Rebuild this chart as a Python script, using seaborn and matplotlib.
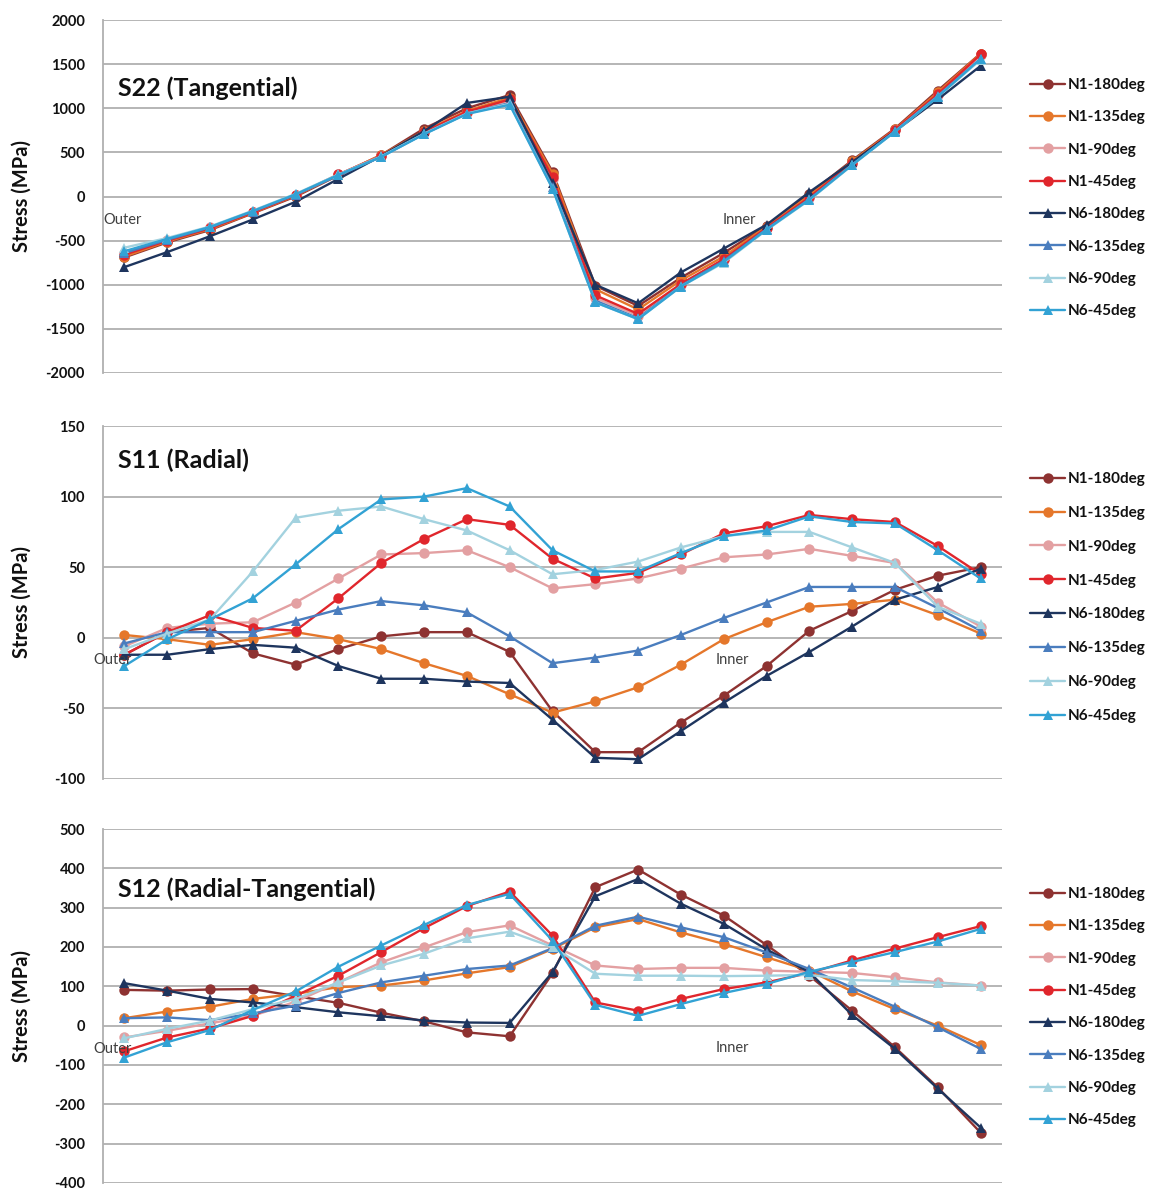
import numpy as np
import pandas as pd
import matplotlib
matplotlib.use("Agg")
import matplotlib.pyplot as plt
import seaborn as sns

# ---------------- data ----------------
series_names = ["N1-180deg", "N1-135deg", "N1-90deg", "N1-45deg",
                "N6-180deg", "N6-135deg", "N6-90deg", "N6-45deg"]
positions = list(range(21))

# S22 (Tangential)
s22_n1_180 = [-690, -520, -380, -190, 0, 240, 470, 770, 1000, 1150, 280, -1010, -1240, -920, -640, -330, 30, 410, 770, 1200, 1620]
s22_n1_135 = [-680, -510, -370, -185, 10, 245, 470, 740, 970, 1120, 260, -1050, -1280, -950, -680, -340, 10, 400, 760, 1180, 1620]
s22_n1_90 = [-640, -490, -350, -170, 20, 250, 460, 720, 950, 1090, 200, -1150, -1350, -1000, -720, -360, -20, 370, 750, 1150, 1600]
s22_n1_45 = [-660, -500, -360, -180, 15, 250, 460, 730, 960, 1100, 220, -1120, -1330, -990, -710, -355, -10, 380, 755, 1160, 1610]
s22_n6_180 = [-800, -630, -450, -260, -60, 200, 460, 740, 1060, 1130, 150, -1000, -1210, -860, -590, -320, 50, 390, 740, 1100, 1480]
s22_n6_135 = [-640, -490, -350, -170, 20, 240, 450, 710, 940, 1060, 110, -1180, -1380, -1010, -730, -370, -30, 360, 740, 1140, 1560]
s22_n6_90 = [-580, -470, -340, -160, 30, 250, 455, 710, 940, 1050, 90, -1200, -1390, -1020, -750, -380, -40, 355, 735, 1130, 1550]
s22_n6_45 = [-620, -480, -345, -165, 25, 245, 450, 705, 935, 1040, 90, -1200, -1390, -1020, -740, -375, -35, 358, 735, 1130, 1560]

# S11 (Radial)
s11_n1_180 = [-12, 4, 7, -11, -19, -8, 1, 4, 4, -10, -52, -81, -81, -60, -41, -20, 5, 19, 34, 44, 50]
s11_n1_135 = [2, -1, -5, -1, 4, -1, -8, -18, -27, -40, -53, -45, -35, -19, -1, 11, 22, 24, 27, 16, 3]
s11_n1_90 = [-6, 7, 10, 11, 25, 42, 59, 60, 62, 50, 35, 38, 42, 49, 57, 59, 63, 58, 53, 25, 8]
s11_n1_45 = [-12, 4, 16, 7, 5, 28, 53, 70, 84, 80, 56, 42, 46, 59, 74, 79, 87, 84, 82, 65, 45]
s11_n6_180 = [-12, -12, -8, -5, -7, -20, -29, -29, -31, -32, -58, -85, -86, -66, -46, -27, -10, 8, 27, 36, 49]
s11_n6_135 = [-4, 4, 4, 4, 12, 20, 26, 23, 18, 1, -18, -14, -9, 2, 14, 25, 36, 36, 36, 21, 5]
s11_n6_90 = [-8, 3, 13, 47, 85, 90, 93, 84, 76, 62, 45, 48, 54, 64, 72, 75, 75, 64, 53, 22, 10]
s11_n6_45 = [-20, -1, 13, 28, 52, 77, 98, 100, 106, 93, 62, 47, 47, 60, 72, 76, 86, 82, 81, 62, 42]

# S12 (Radial-Tangential)
s12_n1_180 = [91, 89, 92, 93, 75, 58, 33, 11, -17, -27, 133, 352, 397, 333, 280, 205, 127, 38, -55, -157, -272]
s12_n1_135 = [19, 36, 48, 68, 81, 98, 102, 115, 133, 149, 195, 250, 271, 237, 208, 174, 140, 87, 42, 0, -49]
s12_n1_90 = [-30, -13, 6, 25, 61, 110, 161, 199, 238, 255, 204, 153, 144, 147, 147, 140, 137, 134, 123, 110, 102]
s12_n1_45 = [-65, -30, -7, 25, 76, 127, 187, 248, 304, 341, 229, 59, 38, 68, 93, 110, 134, 166, 196, 225, 253]
s12_n6_180 = [108, 89, 68, 59, 47, 34, 24, 13, 8, 7, 136, 329, 373, 310, 259, 194, 136, 27, -59, -160, -259]
s12_n6_135 = [19, 21, 14, 31, 51, 83, 110, 127, 144, 153, 197, 254, 277, 250, 225, 186, 144, 97, 48, -4, -59]
s12_n6_90 = [-32, -8, 13, 42, 68, 110, 153, 183, 222, 239, 200, 132, 127, 127, 126, 127, 129, 116, 113, 109, 102]
s12_n6_45 = [-81, -42, -11, 40, 87, 150, 204, 256, 307, 335, 216, 53, 25, 55, 83, 106, 137, 162, 187, 214, 246]

panel_titles = ["S22 (Tangential)", "S11 (Radial)", "S12 (Radial-Tangential)"]
ylabel_text = "Stress (MPa)"
s22_ticks = [-2000, -1500, -1000, -500, 0, 500, 1000, 1500, 2000]
s11_ticks = [-100, -50, 0, 50, 100, 150]
s12_ticks = [-400, -300, -200, -100, 0, 100, 200, 300, 400, 500]

# ---------------- style ----------------
colors = ["#8E3231", "#E5772B", "#E3A0A2", "#E0262C",
          "#1E355E", "#4A7DBE", "#A3D2DF", "#32A2D4"]
palette = dict(zip(series_names, colors))
markers = {n: ("o" if n.startswith("N1") else "^") for n in series_names}

sns.set_theme(style="white")
plt.rcParams["font.family"] = ["Lato", "DejaVu Sans"]
plt.rcParams["axes.unicode_minus"] = False

W, H = 1151, 1189
fig = plt.figure(figsize=(W / 100, H / 100), dpi=100)


def fx(px):
    return px / W


def fy(py):
    return 1 - py / H


panels = [
    dict(lists=[s22_n1_180, s22_n1_135, s22_n1_90, s22_n1_45,
                s22_n6_180, s22_n6_135, s22_n6_90, s22_n6_45],
         top=20, bottom=373, ticks=s22_ticks, title=panel_titles[0],
         title_y=88, outer=(-0.49, -266), inner=(13.97, -266),
         leg_top=78, leg_space=1.2),
    dict(lists=[s11_n1_180, s11_n1_135, s11_n1_90, s11_n1_45,
                s11_n6_180, s11_n6_135, s11_n6_90, s11_n6_45],
         top=426, bottom=779, ticks=s11_ticks, title=panel_titles[1],
         title_y=460, outer=(-0.73, -16), inner=(13.8, -16),
         leg_top=472, leg_space=1.3),
    dict(lists=[s12_n1_180, s12_n1_135, s12_n1_90, s12_n1_45,
                s12_n6_180, s12_n6_135, s12_n6_90, s12_n6_45],
         top=829, bottom=1183, ticks=s12_ticks, title=panel_titles[2],
         title_y=889, outer=(-0.73, -59), inner=(13.8, -58),
         leg_top=887, leg_space=1.2),
]

left_px, right_px = 103, 1002

for p in panels:
    ax = fig.add_axes([fx(left_px), fy(p["bottom"]), fx(right_px) - fx(left_px),
                       fy(p["top"]) - fy(p["bottom"])])
    rows = []
    for name, vals in zip(series_names, p["lists"]):
        for x, v in zip(positions, vals):
            rows.append((name, x, v))
    df = pd.DataFrame(rows, columns=["series", "pos", "stress"])
    sns.lineplot(data=df, x="pos", y="stress", hue="series", style="series",
                 hue_order=series_names, style_order=series_names,
                 palette=palette, markers=markers, dashes=False,
                 linewidth=1.7, markersize=7.5, markeredgewidth=0,
                 errorbar=None, sort=False, ax=ax, legend=True)

    ax.set_xlim(-0.5, 20.5)
    ax.set_ylim(p["ticks"][0], p["ticks"][-1])
    ax.set_yticks(p["ticks"])
    ax.set_xticks([])
    ax.set_xlabel("")
    ax.set_ylabel(ylabel_text, fontsize=14.5, fontweight="bold", color="#111111")
    ax.yaxis.set_label_coords((32 - left_px) / (right_px - left_px), 0.5)
    ax.tick_params(axis="y", length=0, pad=13, labelsize=10.5, labelcolor="#111111")
    for lab in ax.get_yticklabels():
        lab.set_fontweight("bold")
    ax.yaxis.grid(True, color="#B0B0B0", linewidth=1.3)
    ax.xaxis.grid(False)
    for s in ["top", "right", "bottom"]:
        ax.spines[s].set_visible(False)
    ax.spines["left"].set_color("#B0B0B0")
    ax.spines["left"].set_linewidth(1.3)
    ax.set_axisbelow(True)

    ax.text((118 - left_px) / (right_px - left_px),
            1 - (p["title_y"] - p["top"]) / (p["bottom"] - p["top"]),
            p["title"], transform=ax.transAxes, fontsize=18, fontweight="bold",
            ha="left", va="center", color="#111111")
    ax.text(p["outer"][0], p["outer"][1], "Outer", fontsize=10.5, color="#404040",
            ha="left", va="center", clip_on=False)
    ax.text(p["inner"][0], p["inner"][1], "Inner", fontsize=10.5, color="#404040",
            ha="left", va="center")

    sns.move_legend(ax, "upper left", bbox_to_anchor=(fx(1030), fy(p["leg_top"])),
                    bbox_transform=fig.transFigure, frameon=False, title=None,
                    handlelength=2.3, handletextpad=0.2,
                    labelspacing=p["leg_space"], borderpad=0, borderaxespad=0,
                    prop={"weight": "bold", "size": 11})
    leg = ax.get_legend()
    for h in leg.legend_handles:
        h.set_linewidth(1.7)
        h.set_markersize(7.5)
        h.set_markeredgewidth(0)
    for t in leg.get_texts():
        t.set_color("#111111")

fig.savefig("out.png", dpi=100, facecolor="white")
